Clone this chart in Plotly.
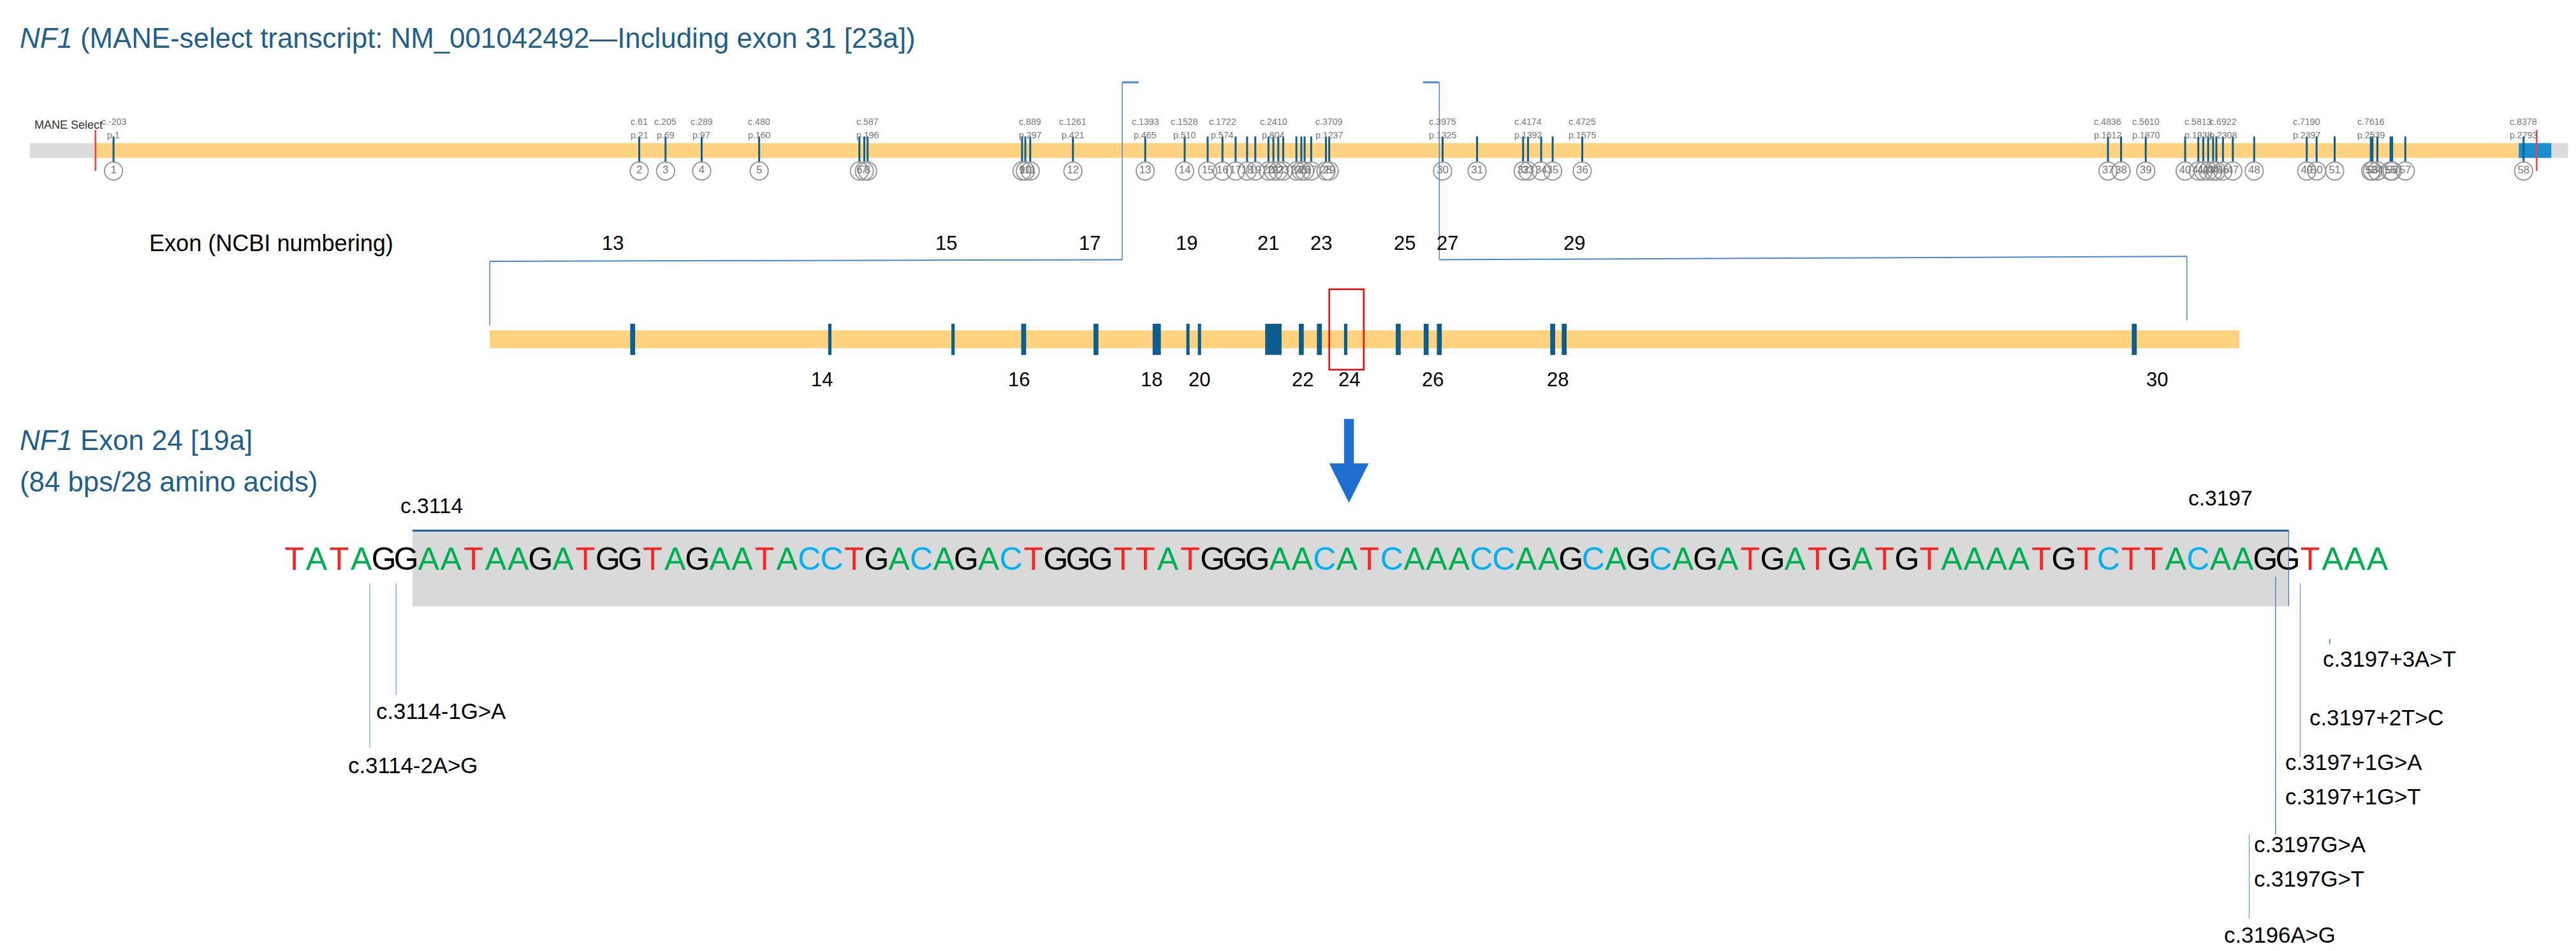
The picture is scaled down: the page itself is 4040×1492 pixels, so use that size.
import plotly.graph_objects as go

S = 4040 / 1568  # reference drawn in 1568-wide units

# top transcript: exon positions (exon 1..58)
top_exon_x = [66, 386, 402, 424, 459, 520, 523, 525, 619, 621, 624, 650, 694, 718, 732, 741, 749, 756, 761, 769,
              772, 775, 778, 786, 789, 791, 795, 804, 806, 875, 896, 924, 927, 935, 942, 960, 1280, 1288, 1303, 1327,
              1335, 1338, 1341, 1344, 1346, 1350, 1356, 1369, 1401, 1407, 1418, 1440, 1441, 1444, 1452, 1453, 1461, 1533]
top_exon_num = list(range(1, 59))
cp_exons = [1, 2, 3, 4, 5, 8, 11, 12, 13, 14, 16, 21, 29, 30, 33, 36, 37, 39, 41, 46, 49, 52, 58]
cp_c = ["c.-203", "c.61", "c.205", "c.289", "c.480", "c.587", "c.889", "c.1261", "c.1393", "c.1528", "c.1722", "c.2410",
        "c.3709", "c.3975", "c.4174", "c.4725", "c.4836", "c.5610", "c.5813", "c.6922", "c.7190", "c.7616", "c.8378"]
cp_p = ["p.1", "p.21", "p.69", "p.97", "p.160", "p.196", "p.297", "p.421", "p.465", "p.510", "p.574", "p.804",
        "p.1237", "p.1325", "p.1392", "p.1575", "p.1612", "p.1870", "p.1938", "p.2308", "p.2397", "p.2539", "p.2793"]

# zoomed exons 13..30
mid_exon_num = list(range(13, 31))
mid_exon_x = [382, 502, 577, 620, 664, 701, 720, 727, 772, 789, 800, 816, 848, 865, 873, 942, 949, 1296]
mid_exon_w = [3, 2, 2, 3, 3, 5, 2, 2, 10, 3, 3, 2, 3, 3, 3, 3, 3, 3]
mid_label_x = [370, 497, 573, 617, 660, 698, 719, 727, 769, 790, 801, 818, 852, 869, 878, 945, 955, 1310]

seq = "TATAGGAATAAGATGGTAGAATACCTGACAGACTGGGTTATGGGAACATCAAACCAAGCAGCAGATGATGATGTAAAATGTCTTACAAGGTAAA"
base_colors = {"T": "#ff2020", "A": "#00b050", "G": "#000000", "C": "#00b0f0"}

variants = ["c.3114-1G>A", "c.3114-2A>G", "c.3197+3A>T", "c.3197+2T>C", "c.3197+1G>A", "c.3197+1G>T",
            "c.3197G>A", "c.3197G>T", "c.3196A>G"]
var_x = [225, 208, 1410, 1402, 1387, 1387, 1368, 1368, 1350]
var_y = [430, 463, 398, 434, 461, 482, 511, 532, 566]

TITLE = "#1f5f8b"
BLUE = "#0b5e8e"
YEL = "#fed27f"
LINE = "#4a86d8"

fig = go.Figure()
shapes = []
annos = []


def rect(x0, x1, y0, y1, color, lw=0, lc=None):
    shapes.append(dict(type="rect", x0=x0, x1=x1, y0=y0, y1=y1, fillcolor=color,
                       line=dict(width=lw, color=lc or color), layer="below"))


def seg(x0, y0, x1, y1, color=LINE, w=1.5):
    shapes.append(dict(type="line", x0=x0, y0=y0, x1=x1, y1=y1, line=dict(color=color, width=w)))


def txt(x, y, s, size, color="black", anchor="left", family="Liberation Sans"):
    annos.append(dict(x=x, y=y, text=s, showarrow=False, xanchor=anchor, yanchor="middle",
                      font=dict(size=size * S, color=color, family=family)))


# titles
txt(8, 20, "<i>NF1</i> (MANE-select transcript: NM_001042492\u2014Including exon 31 [23a])", 17, TITLE)
txt(8, 265, "<i>NF1</i> Exon 24 [19a]", 17, TITLE)
txt(8, 290, "(84 bps/28 amino acids)", 17, TITLE)

# top track
rect(15, 55, 84, 93, "#dcdcdc")
rect(55, 1530, 84, 93, YEL)
rect(1530, 1550, 84, 93, "#1a8fd0")
rect(1550, 1560, 84, 93, "#dcdcdc")
seg(55, 76, 55, 101, "#ff3b3b", 2.5)
seg(1541, 76, 1541, 101, "#ff3b3b", 2.5)
txt(17, 73, "MANE Select", 7, "#333333")

tx, ty = [], []
for x in top_exon_x:
    tx += [x, x, None]
    ty += [80, 96, None]
fig.add_trace(go.Scatter(x=tx, y=ty, mode="lines", line=dict(color=BLUE, width=3), hoverinfo="skip"))
for x in top_exon_x:
    seg(x, 96, x, 96 + 0, BLUE, 1)
fig.add_trace(go.Scatter(x=top_exon_x, y=[101] * len(top_exon_x), mode="markers+text",
                         marker=dict(symbol="circle-open", size=11 * S, color="#9a9a9a", line=dict(width=2)),
                         text=[str(n) for n in top_exon_num], textposition="middle center",
                         textfont=dict(size=6.5 * S, color="#777777", family="Liberation Sans"),
                         hoverinfo="skip"))
for n, c, p in zip(cp_exons, cp_c, cp_p):
    x = top_exon_x[n - 1]
    txt(x, 71, c, 5.5, "#777777", "center")
    txt(x, 79, p, 5.5, "#777777", "center")

# zoom brackets
seg(680, 47, 690, 47, LINE, 3)
seg(680, 47, 680, 155)
seg(680, 155, 295, 156, LINE, 2)
seg(295, 156, 295, 195)
seg(863, 47, 873, 47, LINE, 3)
seg(873, 47, 873, 155)
seg(873, 155, 1328, 153, LINE, 2)
seg(1328, 153, 1328, 192)

# middle track
txt(87, 145, "Exon (NCBI numbering)", 14)
rect(295, 1360, 198, 209, YEL)
for x, w in zip(mid_exon_x, mid_exon_w):
    rect(x - w / 2, x + w / 2, 194, 213, BLUE)
for n, x in zip(mid_exon_num, mid_label_x):
    txt(x, 145 if n % 2 else 228, str(n), 12, "black", "center")
shapes.append(dict(type="rect", x0=806, x1=827, y0=173, y1=222, line=dict(color="#ff0000", width=2.5)))

# arrow
seg(818, 252, 818, 292, "#1f6fd0", 6 * S)
annos.append(dict(x=818, y=303, ax=818, ay=288, axref="x", ayref="y", xref="x", yref="y", text="",
                  showarrow=True, arrowhead=2, arrowsize=0.8, arrowwidth=6 * S, arrowcolor="#1f6fd0"))

# sequence
rect(248, 1390, 320, 366, "#d9d9d9")
seg(248, 320, 1390, 320, "#1f5fa8", 3)
seg(1390, 320, 1390, 366, "#1f5fa8", 1)
txt(240, 305, "c.3114", 13)
txt(1328, 300, "c.3197", 13)
n = len(seq)
sx = [176 + i * (1444 - 176) / (n - 1) for i in range(n)]
fig.add_trace(go.Scatter(x=sx, y=[339] * n, mode="text", text=list(seq),
                         textfont=dict(size=19.5 * S, color=[base_colors[b] for b in seq],
                                       family="Liberation Sans Narrow, Liberation Sans"),
                         hoverinfo="skip"))

# variant leader lines
seg(222, 352, 222, 452, LINE, 1)
seg(238, 352, 238, 420, LINE, 1)
seg(1382, 348, 1382, 505, LINE, 1.5)
seg(1397, 352, 1397, 458, LINE, 1)
seg(1366, 505, 1366, 556, LINE, 1)
seg(1415, 386, 1415, 389, LINE, 2)
for s, x, y in zip(variants, var_x, var_y):
    txt(x, y, s, 13.5, "black", "left", "Liberation Sans Narrow, Liberation Sans")

fig.update_layout(width=4040, height=1492, margin=dict(l=0, r=0, t=0, b=0), showlegend=False,
                  plot_bgcolor="white", paper_bgcolor="white", shapes=shapes, annotations=annos,
                  xaxis=dict(range=[0, 1568], visible=False), yaxis=dict(range=[579, 0], visible=False))
fig.write_html("out.html")
